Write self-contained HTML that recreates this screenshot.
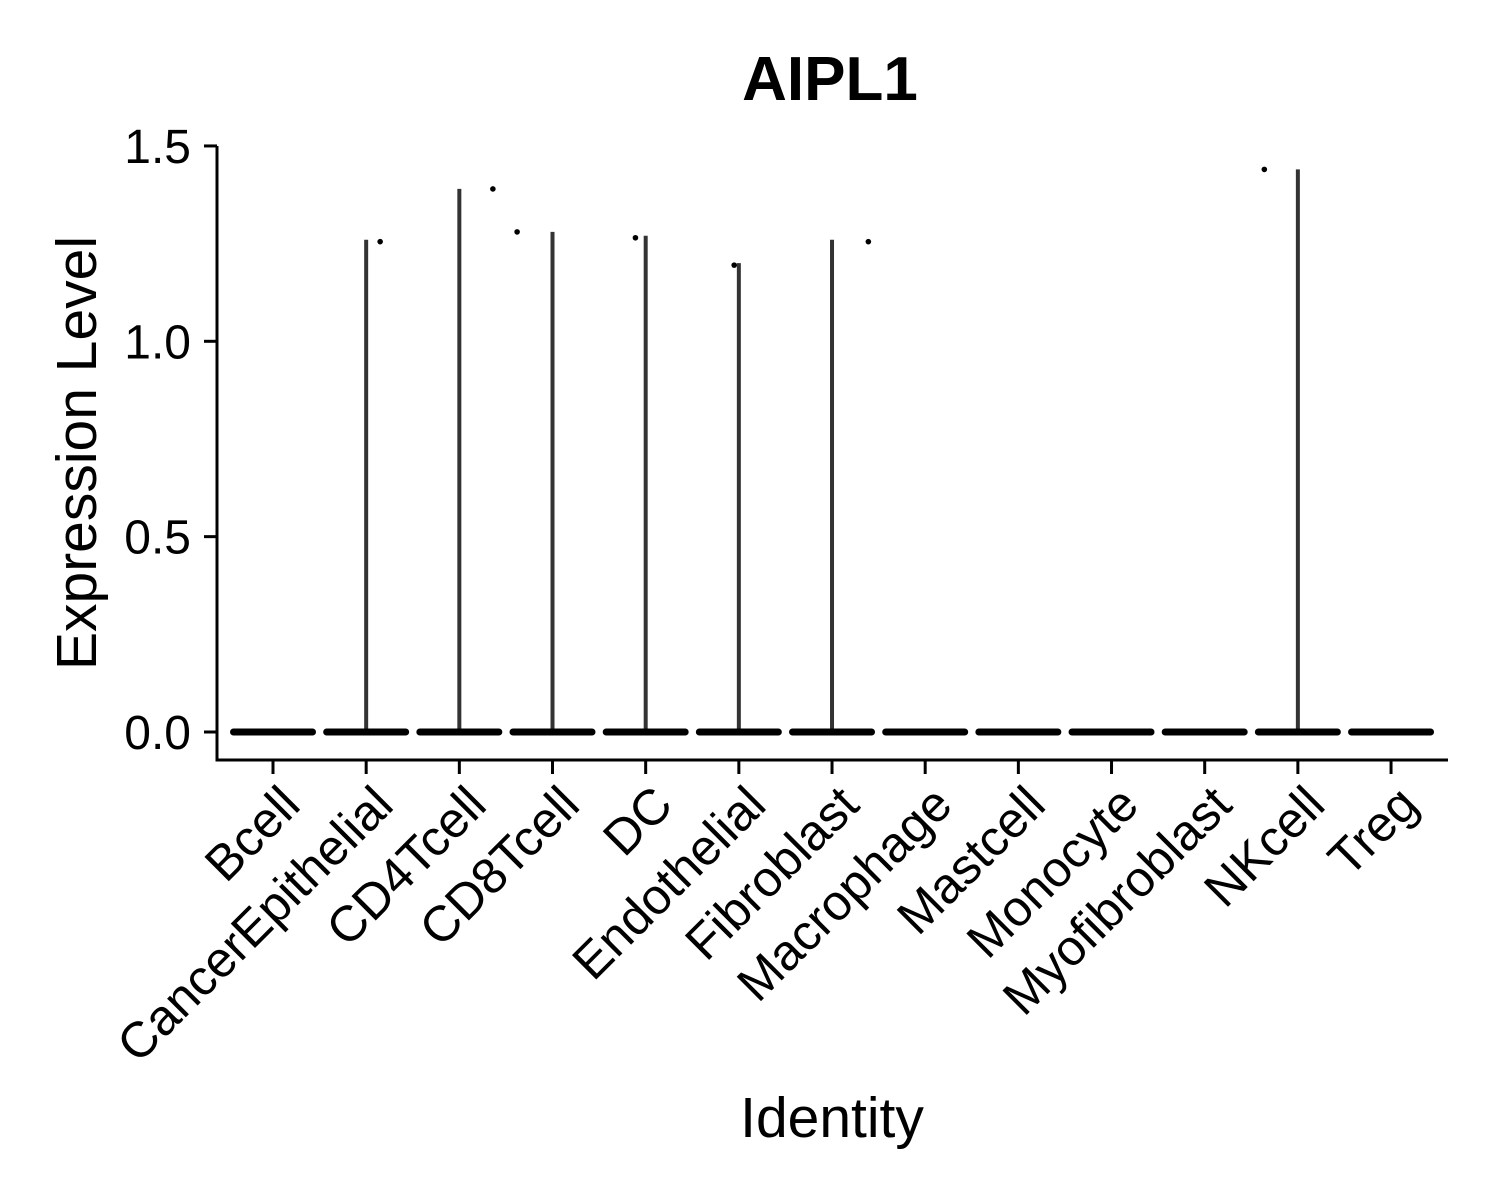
<!DOCTYPE html>
<html><head><meta charset="utf-8"><style>
body{margin:0;background:#fff}
svg{display:block;font-family:"Liberation Sans",Arial,sans-serif}
</style></head><body>
<svg id="chart" width="1500" height="1200" viewBox="0 0 1500 1200">
<text x="830" y="100" font-size="62" font-weight="bold" text-anchor="middle">AIPL1</text>
<text transform="translate(96,453) rotate(-90)" font-size="57" text-anchor="middle">Expression Level</text>
<text x="832" y="1137" font-size="57" text-anchor="middle">Identity</text>
<g id="plot"></g>
</svg>
<script>
const categories=["Bcell","CancerEpithelial","CD4Tcell","CD8Tcell","DC","Endothelial","Fibroblast","Macrophage","Mastcell","Monocyte","Myofibroblast","NKcell","Treg"];
const maxValues=[0,1.26,1.39,1.28,1.27,1.20,1.26,0,0,0,0,1.44,0];
const pointCats=[1,2,3,4,5,6,11];
const pointJitter=[0.15,0.36,-0.38,-0.11,-0.05,0.39,-0.36];
const pointValues=[1.255,1.39,1.28,1.265,1.195,1.255,1.44];
const yTicks=[0,0.5,1.0,1.5];
const yTickLabels=["0.0","0.5","1.0","1.5"];
const NS="http://www.w3.org/2000/svg";
const g=document.getElementById('plot');
const X=i=>273+i*93.17;
const Y=v=>732-v*390.7;
function mk(t,a){const e=document.createElementNS(NS,t);for(const k in a)e.setAttribute(k,a[k]);g.appendChild(e);return e;}
let e=mk('line',{x1:217,y1:146,x2:217,y2:761,stroke:'#000','stroke-width':3});


e=mk('line',{x1:215.5,y1:760,x2:1448,y2:760,stroke:'#000','stroke-width':3});


yTicks.forEach((v,i)=>{
  let t=mk('line',{x1:204,y1:Y(v),x2:217,y2:Y(v),stroke:'#000','stroke-width':3});
  
  
  let l=mk('text',{x:191,y:Y(v)+17,'font-size':48,'text-anchor':'end'});
  l.textContent=yTickLabels[i];
  
  
});
categories.forEach((c,i)=>{
  const x=X(i);
  let t=mk('line',{x1:x,y1:760,x2:x,y2:774,stroke:'#000','stroke-width':3});
  
  
  let l=mk('text',{transform:`translate(${x+4},${782}) rotate(-45)`,dy:'0.72em','font-size':50,'text-anchor':'end'});
  l.textContent=c;
  
  
  if(maxValues[i]>0){
    let v=mk('line',{x1:x,y1:Y(0),x2:x,y2:Y(maxValues[i]),stroke:'#333','stroke-width':4});
    
    
  }
  let b=mk('rect',{x:x-43,y:Y(0)-3.5,width:86,height:7,rx:3.5,fill:'#000'});
  
  
});
pointCats.forEach((c,i)=>{
  let p=mk('circle',{cx:X(c+pointJitter[i]),cy:Y(pointValues[i]),r:2.8,fill:'#000'});
  
  
});
</script>
</body></html>
